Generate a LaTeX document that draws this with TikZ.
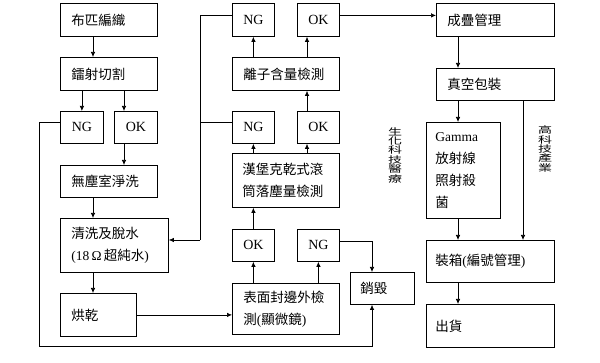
\documentclass[tikz,border=0pt]{standalone}
\usepackage{fontspec}
\setmainfont{Liberation Serif}
\newfontfamily\cjk{Noto Sans CJK TC}
\usetikzlibrary{arrows.meta,calc}
\newcommand\vch[1]{\scalebox{1}[0.66]{#1}}
\tikzset{
 box/.style={draw, line width=0.8pt, anchor=north west, inner ysep=0pt, align=left, font=\fontsize{13.5}{22}\selectfont},
 okng/.style={draw, line width=0.8pt, anchor=north west, inner sep=0pt, font=\fontsize{14}{16}\selectfont},
 arr/.style={-{Latex[length=5pt,width=4.5pt]}, line width=0.7pt},
 ln/.style={line width=0.7pt},
 vlab/.style={inner sep=0pt, align=center, font=\fontsize{14}{9.4}\selectfont\cjk},
}
\begin{document}
\begin{tikzpicture}[x=1pt,y=-1pt]
\useasboundingbox (0,0) rectangle (600,363);
% left column
\node[box, minimum width=97, minimum height=33, text width=75, inner xsep=11] (A) at (60,3) {\cjk 布匹編織};
\node[box, minimum width=97, minimum height=33, text width=75, inner xsep=11] (B) at (60,57) {\cjk 鐳射切割};
\node[okng, minimum width=43, minimum height=32] (NG1) at (60,111) {NG};
\node[okng, minimum width=43, minimum height=32] (OK1) at (114,111) {OK};
\node[box, minimum width=97, minimum height=32, text width=75, inner xsep=11] (C) at (60,165) {\cjk 無塵室淨洗};
\node[box, minimum width=108, minimum height=54, text width=86, inner xsep=11] (D) at (60,218) {{\cjk 清洗及脫水}\\(18\,Ω\,{\cjk 超純水})};
\node[box, minimum width=76, minimum height=43, text width=54, inner xsep=11] (E) at (60,293) {\cjk 烘乾};
% middle column
\node[okng, minimum width=42, minimum height=33] (NG2) at (232,3) {NG};
\node[okng, minimum width=42, minimum height=33] (OK2) at (297,3) {OK};
\node[box, minimum width=107, minimum height=33, text width=85, inner xsep=11] (H) at (232,57) {\cjk 離子含量檢測};
\node[okng, minimum width=42, minimum height=32] (NG3) at (232,111) {NG};
\node[okng, minimum width=42, minimum height=32] (OK3) at (297,111) {OK};
\node[box, minimum width=107, minimum height=54, text width=87, inner xsep=10] (G) at (232,153) {{\cjk 漢堡克乾式滾}\\{\cjk 筒落塵量檢測}};
\node[okng, minimum width=42, minimum height=32] (OK4) at (232,229) {OK};
\node[okng, minimum width=42, minimum height=32] (NG4) at (297,229) {NG};
\node[box, minimum width=107, minimum height=51, text width=85, inner xsep=11] (F) at (232,283) {{\cjk 表面封邊外檢}\\{\cjk 測}({\cjk 顯微鏡})};
\node[box, minimum width=64, minimum height=32, text width=44, inner xsep=10] (I) at (350,272) {\cjk 銷毀};
% right column
\node[box, minimum width=118, minimum height=33, text width=96, inner xsep=11] (J) at (436,3) {\cjk 成疊管理};
\node[box, minimum width=118, minimum height=32, text width=96, inner xsep=11] (K) at (436,68) {\cjk 真空包裝};
\node[box, minimum width=74, minimum height=96, text width=56, inner xsep=9] (L) at (426,122) {Gamma\\{\cjk 放射線}\\{\cjk 照射殺}\\{\cjk 菌}};
\node[box, minimum width=128, minimum height=42, text width=110, inner xsep=9] (M) at (426,240) {{\cjk 裝箱}({\cjk 編號管理})};
\node[box, minimum width=128, minimum height=43, text width=110, inner xsep=9] (N) at (426,304) {\cjk 出貨};
% vertical labels
\node[vlab] (V1) at (395,155) {\vch{生}\\\vch{化}\\\vch{科}\\\vch{技}\\\vch{醫}\\\vch{療}};
\node[vlab] (V2) at (545,149) {\vch{高}\\\vch{科}\\\vch{技}\\\vch{產}\\\vch{業}};
% helper coordinates
\coordinate (pa) at ([xshift=33]A.south west);
\coordinate (p1) at ([xshift=10]OK1.north west);
\coordinate (p3) at ([xshift=10]OK3.north west);
\coordinate (p4) at ([xshift=22]J.south west);
\coordinate (p5) at ([xshift=87]K.south west);
\coordinate (q) at ([xshift=22]I.south west);
\coordinate (c1) at (39,346);
\coordinate (v1) at (200,240);
% left connectors
\draw[arr] (pa) -- (pa |- B.north);
\draw[arr] (NG1.north |- B.south) -- (NG1.north);
\draw[arr] (p1 |- B.south) -- (p1);
\draw[arr] (p1 |- OK1.south) -- (p1 |- C.north);
\draw[arr] (pa |- C.south) -- (pa |- D.north);
\draw[arr] (pa |- D.south) -- (pa |- E.north);
\draw[arr] (E.east) -- (E.east -| F.west);
\draw[arr] ([yshift=5]NG1.west) -| (c1) -| (q);
% NG returns to washing
\draw[ln] ([yshift=4.5]NG2.west) -| (v1);
\draw[ln] ([yshift=5]NG3.west) -- ([yshift=5]NG3.west -| v1);
\draw[arr] (v1) -- (v1 -| D.east);
% middle connectors
\draw[arr] (OK4.south |- F.north) -- (OK4.south);
\draw[arr] (NG4.south |- F.north) -- (NG4.south);
\draw[arr] ([yshift=4]NG4.east) -| (I.north -| q);
\draw[arr] (OK4.north) -- (OK4.north |- G.south);
\draw[arr] (NG3.south |- G.north) -- (NG3.south);
\draw[arr] (p3 |- G.north) -- (p3 |- OK3.south);
\draw[arr] (p3) -- (p3 |- H.south);
\draw[arr] (NG2.south |- H.north) -- (NG2.south);
\draw[arr] (p3 |- H.north) -- (p3 |- OK2.south);
\draw[arr] ([yshift=4.5]OK2.east) -- ([yshift=4.5]OK2.east -| J.west);
% right connectors
\draw[arr] (p4) -- (p4 |- K.north);
\draw[arr] (p4 |- K.south) -- (p4 |- L.north);
\draw[arr] (p5) -- (p5 |- M.north);
\draw[arr] (p4 |- L.south) -- (p4 |- M.north);
\draw[arr] (p4 |- M.south) -- (p4 |- N.north);
\end{tikzpicture}
\end{document}
